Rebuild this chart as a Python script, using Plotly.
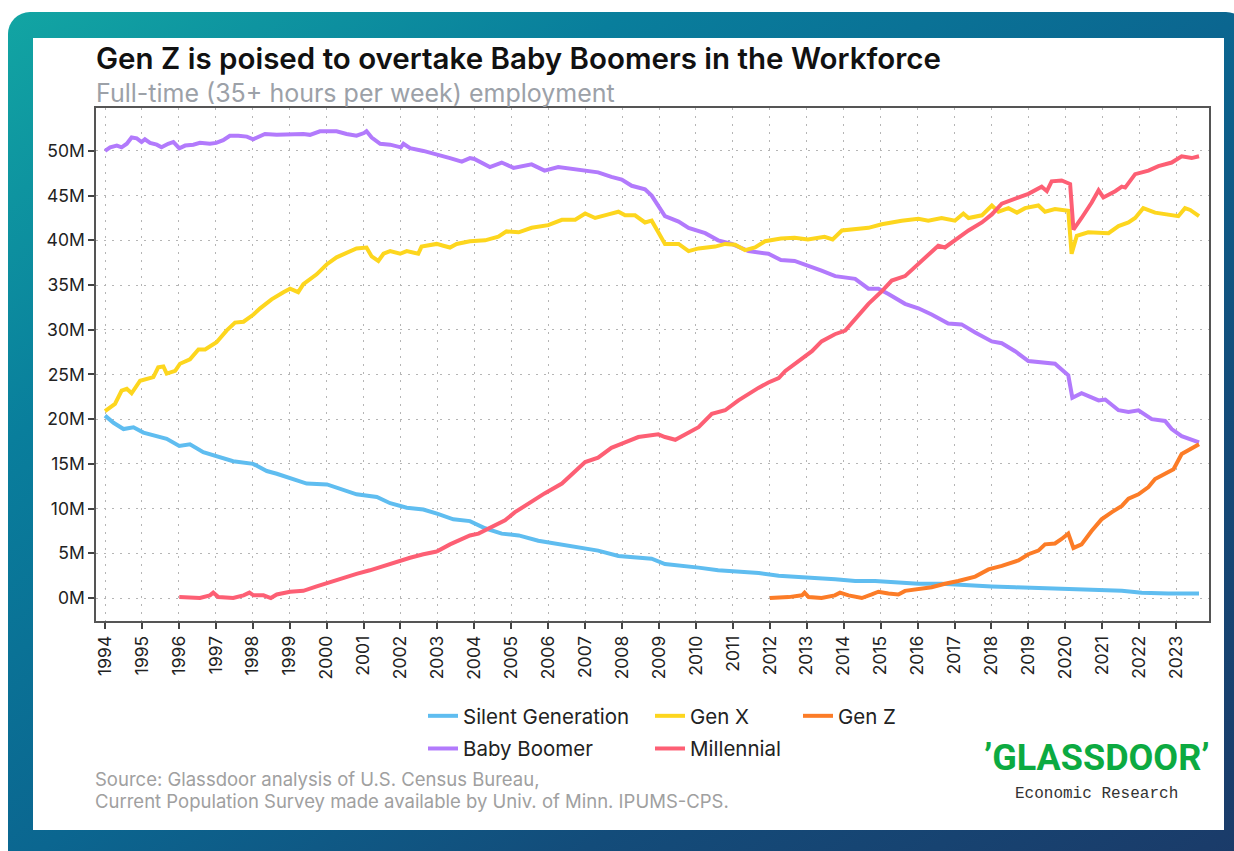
import base64
import plotly.graph_objects as go

# ---------------- data (decimal years, millions of workers) ----------------
year_ticks = list(range(1994, 2024))
year_labels = [str(y) for y in year_ticks]
y_ticks = [0, 5, 10, 15, 20, 25, 30, 35, 40, 45, 50]
y_labels = ["0M", "5M", "10M", "15M", "20M", "25M", "30M", "35M", "40M", "45M", "50M"]

silent_x = [1994.0, 1994.23, 1994.5, 1994.77, 1995.04, 1995.4, 1995.67, 1996.01, 1996.3, 1996.66,
            1997.02, 1997.47, 1998.01, 1998.38, 1998.65, 1999.01, 1999.46, 2000.01, 2000.45, 2000.81,
            2001.36, 2001.72, 2002.17, 2002.62, 2003.01, 2003.43, 2003.88, 2004.29, 2004.74, 2005.2,
            2005.73, 2006.27, 2006.81, 2007.35, 2007.9, 2008.44, 2008.8, 2009.16, 2009.71, 2010.07,
            2010.6, 2011.15, 2011.7, 2012.24, 2012.78, 2013.32, 2013.77, 2014.31, 2014.85, 2015.39,
            2016.02, 2016.65, 2017.38, 2018.01, 2018.64, 2019.36, 2020.08, 2020.8, 2021.53, 2022.07,
            2022.79, 2023.62]
silent_y = [20.4, 19.6, 18.9, 19.1, 18.5, 18.1, 17.8, 17.0, 17.2, 16.3,
            15.9, 15.3, 15.0, 14.2, 13.9, 13.4, 12.8, 12.7, 12.1, 11.6,
            11.3, 10.6, 10.1, 9.9, 9.4, 8.8, 8.6, 7.8, 7.2, 7.0,
            6.4, 6.0, 5.7, 5.3, 4.7, 4.5, 4.4, 3.8, 3.6, 3.4,
            3.1, 3.0, 2.8, 2.5, 2.3, 2.2, 2.1, 1.9, 1.9, 1.8,
            1.6, 1.6, 1.4, 1.3, 1.2, 1.1, 1.0, 0.8, 0.8, 0.6,
            0.5, 0.5]

genx_x = [1994.0, 1994.27, 1994.45, 1994.59, 1994.72, 1994.95, 1995.31, 1995.44, 1995.58, 1995.67,
          1995.9, 1996.03, 1996.3, 1996.53, 1996.71, 1997.02, 1997.29, 1997.52, 1997.75, 1998.02,
          1998.2, 1998.51, 1998.83, 1999.01, 1999.23, 1999.37, 1999.73, 2000.0, 2000.27, 2000.54,
          2000.81, 2001.08, 2001.22, 2001.4, 2001.54, 2001.72, 2001.99, 2002.17, 2002.48, 2002.57,
          2002.98, 2003.16, 2003.34, 2003.52, 2003.88, 2004.29, 2004.65, 2004.87, 2005.2, 2005.55,
          2006.0, 2006.37, 2006.73, 2007.0, 2007.27, 2007.63, 2007.9, 2008.08, 2008.35, 2008.62,
          2008.8, 2008.98, 2009.16, 2009.53, 2009.8, 2010.07, 2010.52, 2010.79, 2011.06, 2011.33,
          2011.6, 2011.87, 2012.3, 2012.67, 2013.03, 2013.48, 2013.7, 2013.95, 2014.31, 2014.67,
          2015.03, 2015.57, 2016.02, 2016.29, 2016.65, 2017.01, 2017.24, 2017.38, 2017.74, 2018.01,
          2018.19, 2018.46, 2018.69, 2018.91, 2019.27, 2019.45, 2019.72, 2020.08, 2020.17, 2020.31,
          2020.62, 2020.9, 2021.17, 2021.44, 2021.71, 2021.89, 2022.11, 2022.43, 2022.79, 2023.06,
          2023.24, 2023.38, 2023.62]
genx_y = [20.9, 21.7, 23.2, 23.4, 22.9, 24.3, 24.7, 25.8, 25.9, 25.1,
          25.4, 26.2, 26.7, 27.8, 27.8, 28.6, 29.9, 30.8, 30.9, 31.7,
          32.4, 33.4, 34.2, 34.6, 34.2, 35.1, 36.2, 37.3, 38.1, 38.6,
          39.1, 39.2, 38.2, 37.7, 38.5, 38.8, 38.5, 38.8, 38.5, 39.3,
          39.6, 39.4, 39.2, 39.6, 39.9, 40.0, 40.4, 41.0, 40.9, 41.4,
          41.7, 42.3, 42.3, 43.0, 42.5, 42.9, 43.2, 42.8, 42.8, 42.0,
          42.2, 40.9, 39.6, 39.6, 38.8, 39.1, 39.3, 39.6, 39.5, 38.9,
          39.2, 39.9, 40.2, 40.3, 40.1, 40.4, 40.1, 41.1, 41.2, 41.4,
          41.8, 42.2, 42.4, 42.2, 42.5, 42.2, 43.0, 42.5, 42.8, 43.9,
          43.2, 43.6, 43.1, 43.6, 43.9, 43.2, 43.5, 43.3, 38.5, 40.5,
          40.9, 40.9, 40.8, 41.6, 42.0, 42.5, 43.6, 43.1, 42.9, 42.7,
          43.6, 43.4, 42.7]

genz_x = [2012.0, 2012.51, 2012.87, 2012.94, 2013.05, 2013.4, 2013.76, 2013.9, 2014.13, 2014.49,
          2014.76, 2014.94, 2015.21, 2015.48, 2015.66, 2016.02, 2016.38, 2016.74, 2017.1, 2017.56,
          2017.92, 2018.28, 2018.73, 2019.0, 2019.27, 2019.45, 2019.72, 2019.9, 2020.08, 2020.22,
          2020.44, 2020.71, 2020.98, 2021.26, 2021.53, 2021.71, 2021.98, 2022.25, 2022.43, 2022.7,
          2022.93, 2023.15, 2023.33, 2023.62]
genz_y = [0.0, 0.1, 0.3, 0.6, 0.1, 0.0, 0.3, 0.6, 0.3, 0.0,
          0.4, 0.7, 0.5, 0.4, 0.8, 1.0, 1.2, 1.6, 1.9, 2.4,
          3.2, 3.6, 4.2, 4.9, 5.3, 6.0, 6.1, 6.6, 7.2, 5.6,
          6.0, 7.5, 8.8, 9.6, 10.3, 11.1, 11.6, 12.4, 13.3, 13.9,
          14.4, 16.1, 16.5, 17.2]

boomer_x = [1994.0, 1994.14, 1994.32, 1994.45, 1994.59, 1994.72, 1994.86, 1994.99, 1995.08, 1995.22,
            1995.4, 1995.53, 1995.71, 1995.85, 1996.01, 1996.17, 1996.39, 1996.57, 1996.84, 1997.01,
            1997.2, 1997.38, 1997.61, 1997.84, 1998.01, 1998.11, 1998.24, 1998.33, 1998.65, 1999.01,
            1999.37, 1999.55, 1999.82, 2000.01, 2000.27, 2000.54, 2000.81, 2001.01, 2001.08, 2001.22,
            2001.45, 2001.72, 2002.01, 2002.08, 2002.26, 2002.62, 2003.01, 2003.34, 2003.66, 2003.88,
            2004.0, 2004.42, 2004.74, 2005.06, 2005.55, 2005.9, 2006.27, 2006.81, 2007.08, 2007.35,
            2007.71, 2007.99, 2008.26, 2008.62, 2008.8, 2008.98, 2009.16, 2009.53, 2009.8, 2010.25,
            2010.6, 2010.97, 2011.42, 2011.96, 2012.3, 2012.67, 2013.03, 2013.4, 2013.77, 2014.31,
            2014.67, 2014.94, 2015.21, 2015.66, 2016.02, 2016.38, 2016.83, 2017.19, 2017.56, 2018.01,
            2018.28, 2018.64, 2019.0, 2019.36, 2019.72, 2020.08, 2020.19, 2020.44, 2020.9, 2021.08,
            2021.44, 2021.71, 2021.98, 2022.34, 2022.7, 2022.88, 2023.15, 2023.62]
boomer_y = [50.0, 50.4, 50.6, 50.4, 50.8, 51.5, 51.4, 51.0, 51.3, 50.9,
            50.7, 50.4, 50.8, 51.0, 50.3, 50.6, 50.7, 50.9, 50.8, 50.9,
            51.2, 51.7, 51.7, 51.6, 51.3, 51.5, 51.7, 51.9, 51.8, 51.9,
            51.9, 51.8, 52.2, 52.2, 52.2, 51.9, 51.7, 52.0, 52.2, 51.5,
            50.8, 50.7, 50.4, 50.8, 50.3, 50.0, 49.6, 49.2, 48.8, 49.2,
            49.1, 48.2, 48.7, 48.1, 48.5, 47.8, 48.2, 47.9, 47.8, 47.6,
            47.1, 46.8, 46.1, 45.7, 45.0, 43.9, 42.7, 42.1, 41.4, 40.8,
            40.0, 39.6, 38.8, 38.5, 37.8, 37.7, 37.1, 36.6, 36.0, 35.7,
            34.6, 34.6, 34.0, 32.9, 32.4, 31.7, 30.7, 30.6, 29.7, 28.7,
            28.5, 27.6, 26.5, 26.3, 26.2, 24.9, 22.4, 22.9, 22.1, 22.2,
            21.0, 20.8, 21.0, 20.0, 19.8, 18.9, 18.1, 17.4]

millennial_x = [1996.01, 1996.3, 1996.57, 1996.84, 1996.93, 1997.07, 1997.47, 1997.75, 1997.91, 1998.02,
                1998.29, 1998.49, 1998.65, 1999.01, 1999.37, 1999.73, 2000.09, 2000.45, 2000.81, 2001.17,
                2001.54, 2001.9, 2002.26, 2002.62, 2002.98, 2003.34, 2003.88, 2004.11, 2004.47, 2004.83,
                2005.1, 2005.55, 2005.9, 2006.37, 2006.64, 2007.0, 2007.35, 2007.71, 2008.08, 2008.44,
                2008.98, 2009.16, 2009.44, 2009.71, 2010.07, 2010.43, 2010.79, 2011.15, 2011.52, 2011.69,
                2011.96, 2012.24, 2012.42, 2012.78, 2013.14, 2013.4, 2013.76, 2014.04, 2014.31, 2014.67,
                2015.03, 2015.3, 2015.66, 2016.02, 2016.29, 2016.56, 2016.74, 2017.1, 2017.38, 2017.74,
                2018.01, 2018.28, 2018.64, 2019.0, 2019.36, 2019.5, 2019.63, 2019.9, 2020.13, 2020.22,
                2020.44, 2020.71, 2020.9, 2021.03, 2021.35, 2021.53, 2021.62, 2021.89, 2022.25, 2022.52,
                2022.88, 2023.15, 2023.42, 2023.62]
millennial_y = [0.1, 0.0, 0.0, 0.3, 0.6, 0.1, 0.0, 0.3, 0.6, 0.3,
                0.3, 0.0, 0.4, 0.7, 0.8, 1.3, 1.8, 2.3, 2.7, 3.1,
                3.6, 4.1, 4.5, 4.9, 5.2, 6.0, 7.0, 7.2, 7.9, 8.7,
                9.6, 10.8, 11.7, 12.8, 13.8, 15.2, 15.7, 16.8, 17.4, 18.0,
                18.3, 18.0, 17.7, 18.3, 19.1, 20.6, 21.0, 22.1, 23.1, 23.5,
                24.1, 24.6, 25.4, 26.5, 27.6, 28.7, 29.5, 29.9, 31.2, 32.9,
                34.3, 35.5, 36.0, 37.4, 38.3, 39.4, 39.2, 40.3, 41.1, 42.0,
                42.9, 44.1, 44.7, 45.2, 46.0, 45.5, 46.6, 46.7, 46.3, 41.2,
                42.5, 44.2, 45.6, 44.8, 45.5, 46.0, 45.9, 47.4, 47.8, 48.3,
                48.7, 49.4, 49.2, 49.4]

series = [
    ("Silent Generation", silent_x, silent_y, "#5fbdf0", "legend"),
    ("Baby Boomer", boomer_x, boomer_y, "#b27afc", "legend"),
    ("Gen X", genx_x, genx_y, "#fdd61e", "legend2"),
    ("Millennial", millennial_x, millennial_y, "#fd5f74", "legend2"),
    ("Gen Z", genz_x, genz_y, "#fc7c27", "legend3"),
]

# ---------------- geometry helpers (pixel -> paper) ----------------
W, H = 1234, 851
L, R, T, B = 96, 1209, 108, 621
PW, PH = R - L, B - T


def px(xp):
    return (xp - L) / PW


def py(yp):
    return (B - yp) / PH


fig = go.Figure()
for name, xs, ys, color, leg in series:
    fig.add_trace(go.Scatter(
        x=xs, y=ys, mode="lines", name=name, legend=leg, legendgroup=name,
        line=dict(color=color, width=4),
    ))

# background frame: gradient rounded panel + white card (inline SVG image)
svg = f'''<svg xmlns="http://www.w3.org/2000/svg" width="{W}" height="{H}" viewBox="0 0 {W} {H}" preserveAspectRatio="none">
<defs><linearGradient id="g" x1="0" y1="0" x2="1" y2="1">
<stop offset="0" stop-color="#12a5a3"/><stop offset="0.25" stop-color="#097e9c"/>
<stop offset="0.5" stop-color="#0b6690"/><stop offset="0.72" stop-color="#134c7a"/>
<stop offset="1" stop-color="#1b3a68"/></linearGradient></defs>
<rect x="8" y="12" width="1240" height="860" rx="22" ry="22" fill="url(#g)"/>
<rect x="33" y="38" width="1191" height="792" fill="#ffffff"/>
</svg>'''
uri = "data:image/svg+xml;base64," + base64.b64encode(svg.encode()).decode()
fig.add_layout_image(dict(
    source=uri, xref="paper", yref="paper", x=px(0), y=py(0),
    sizex=W / PW, sizey=H / PH, xanchor="left", yanchor="top",
    sizing="stretch", layer="below",
))

FONT = "Inter, Roboto, 'Noto Sans', sans-serif"
grid_color = "#b5b5b5"
TICK = 17.5

fig.update_layout(
    width=W, height=H,
    margin=dict(l=L, r=W - R, t=T, b=H - B, pad=0),
    paper_bgcolor="#ffffff", plot_bgcolor="rgba(0,0,0,0)",
    font=dict(family=FONT, size=16, color="#222222"),
    xaxis=dict(
        range=[1993.756, 2023.89], tickmode="array", tickvals=year_ticks, ticktext=year_labels,
        tickangle=-90, ticks="outside", ticklen=6, tickwidth=1.5, tickcolor="#444",
        showline=True, linecolor="#555", linewidth=1.5, mirror=True,
        showgrid=True, gridcolor=grid_color, gridwidth=1, griddash="2px,6px",
        zeroline=False, tickfont=dict(size=TICK, color="#222"),
    ),
    yaxis=dict(
        range=[-2.57, 54.8], tickmode="array", tickvals=y_ticks, ticktext=y_labels,
        ticks="outside", ticklen=6, tickwidth=1.5, tickcolor="#444",
        showline=True, linecolor="#555", linewidth=1.5, mirror=True,
        showgrid=True, gridcolor=grid_color, gridwidth=1, griddash="2px,6px",
        zeroline=False, tickfont=dict(size=TICK, color="#222"),
    ),
    showlegend=True,
)

leg_common = dict(orientation="v", xanchor="left", yanchor="top", y=py(696),
                  font=dict(family=FONT, size=20.5, color="#222"), bgcolor="rgba(0,0,0,0)",
                  itemwidth=30, tracegroupgap=3, itemclick=False, itemdoubleclick=False)
fig.update_layout(
    legend=dict(x=px(423), **leg_common),
    legend2=dict(x=px(650), **leg_common),
    legend3=dict(x=px(798), **leg_common),
)

annotations = [
    dict(text="Gen Z is poised to overtake Baby Boomers in the Workforce", x=px(95), y=py(58.5),
         xanchor="left", yanchor="middle", showarrow=False, borderpad=0,
         font=dict(family=FONT, size=29.5, color="#111111", weight=600)),
    dict(text="Full-time (35+ hours per week) employment", x=px(95), y=py(93),
         xanchor="left", yanchor="middle", showarrow=False, borderpad=0,
         font=dict(family=FONT, size=25, color="#9ca1a8")),
    dict(text="Source: Glassdoor analysis of U.S. Census Bureau,",
         x=px(94), y=py(778.5), xanchor="left", yanchor="middle", align="left", showarrow=False,
         borderpad=0, font=dict(family=FONT, size=18.5, color="#a0a0a0")),
    dict(text="Current Population Survey made available by Univ. of Minn. IPUMS-CPS.",
         x=px(94), y=py(800.5), xanchor="left", yanchor="middle", align="left", showarrow=False,
         borderpad=0, font=dict(family=FONT, size=18.5, color="#a0a0a0")),
    dict(text="\u2019GLASSDOOR\u02bc", x=px(1097), y=py(758), xanchor="center", yanchor="middle",
         showarrow=False,
         font=dict(family="Roboto, 'Liberation Sans Narrow', sans-serif",
                   size=36, color="#0caa41", weight=700)),
    dict(text="Economic Research", x=px(1096), y=py(794), xanchor="center", yanchor="middle",
         showarrow=False, font=dict(family="'Liberation Mono', 'DejaVu Sans Mono', monospace",
                                    size=16, color="#333333")),
]
for a in annotations:
    a.update(xref="paper", yref="paper")
fig.update_layout(annotations=annotations)

fig.write_html("out.html", config={"displayModeBar": False},
               post_script="document.body.style.margin='0';")
